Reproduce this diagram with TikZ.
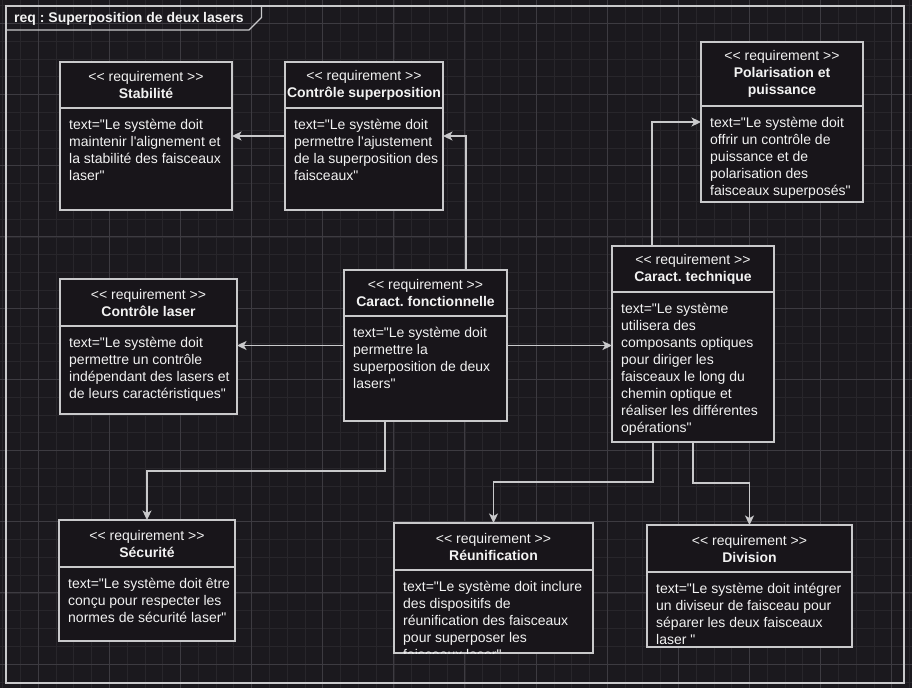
\documentclass[tikz,border=0pt]{standalone}
\usepackage{fontspec}
\newfontfamily\lsans{Liberation Sans}
\usetikzlibrary{arrows.meta}

\definecolor{canvas}{HTML}{1B191E}
\definecolor{boxfill}{HTML}{18151A}
\definecolor{gridminor}{HTML}{28262B}
\definecolor{gridmajor}{HTML}{3D3B41}
\definecolor{edge}{HTML}{C9C9CB}
\definecolor{ink}{HTML}{F2F2F2}

\tikzset{
  minorgrid/.style={draw=gridminor, line width=0.8pt},
  majorgrid/.style={draw=gridmajor, line width=0.9pt},
  frameline/.style={draw=edge, line width=1.3pt},
  reqbox/.style={draw=edge, fill=boxfill, line width=1.3pt, rectangle, inner sep=0pt, outer sep=0pt},
  reqline/.style={draw=edge, line width=1.1pt},
  headtext/.style={text=ink, font=\lsans\frenchspacing\fontsize{14}{17}\selectfont, align=center, inner sep=0pt},
  bodytext/.style={text=ink, font=\lsans\frenchspacing\fontsize{14}{17}\selectfont, align=left, inner sep=0pt},
  titletext/.style={text=ink, font=\lsans\frenchspacing\bfseries\fontsize{14}{17}\selectfont, inner sep=0pt},
  conn/.style={draw=edge, line width=1.4pt, -{Stealth[length=9.5pt, width=9pt, inset=2.5pt]}},
}

% requirement block: name, left, top, right, bottom, divider y, header, body
\newcommand\reqblock[8]{%
  \node[reqbox, anchor=north west, minimum width={#4-#2}, minimum height={#5-#3}] (#1) at (#2,#3) {};
  \draw[reqline] (#2,#6) -- (#4,#6);
  \node[headtext] (#1-head) at ({(#2+#4)/2},{(#3+#6)/2}) {#7};
  \begin{scope}
    \clip (#2,#3) rectangle (#4,#5);
    \node[bodytext, anchor=north west] (#1-body) at (#2+9,#6+11) {#8};
  \end{scope}
}

\begin{document}
\begin{tikzpicture}[x=1pt, y=-1pt]
  \useasboundingbox (0,0) rectangle (912,688);
  \fill[canvas] (0,0) rectangle (912,688);

  % background grid
  \foreach \i in {0,...,52} {
    \draw[minorgrid] ({2.74+17.78*\i},0) -- ++(0,688);
  }
  \foreach \i in {0,...,39} {
    \draw[minorgrid] (0,{5.5+17.8*\i}) -- ++(912,0);
  }
  \foreach \i in {-1,...,12} {
    \draw[majorgrid] ({38.3+71.1*\i},0) -- ++(0,688);
  }
  \foreach \i in {0,...,9} {
    \draw[majorgrid] (0,{23.3+71.2*\i}) -- ++(912,0);
  }

  % diagram frame and its name tab
  \draw[frameline] (6,6) rectangle (904,683);
  \draw[frameline] (6,30) -- (249,30) -- (261.5,17.5) -- (261.5,6);
  \node[titletext, anchor=west] (title) at (14,19) {req : Superposition de deux lasers};

  % requirements
  \reqblock{stab}{60}{62}{232}{210}{108}
    {<{}< requirement >{}>\\\textbf{Stabilité}}
    {text="Le système doit\\maintenir l'alignement et\\la stabilité des faisceaux\\laser"}
  \reqblock{csup}{285}{62}{443}{210}{108}
    {<{}< requirement >{}>\\\textbf{Contrôle superposition}}
    {text="Le système doit\\permettre l'ajustement\\de la superposition des\\faisceaux"}
  \reqblock{pol}{701}{42}{863}{202}{106}
    {<{}< requirement >{}>\\\textbf{Polarisation et}\\\textbf{puissance}}
    {text="Le système doit\\offrir un contrôle de\\puissance et de\\polarisation des\\faisceaux superposés"}
  \reqblock{claser}{60}{279}{237}{414}{326}
    {<{}< requirement >{}>\\\textbf{Contrôle laser}}
    {text="Le système doit\\permettre un contrôle\\indépendant des lasers et\\de leurs caractéristiques"}
  \reqblock{cf}{344}{270}{507}{421}{316}
    {<{}< requirement >{}>\\\textbf{Caract. fonctionnelle}}
    {text="Le système doit\\permettre la\\superposition de deux\\lasers"}
  \reqblock{ct}{612}{246}{774}{442}{292}
    {<{}< requirement >{}>\\\textbf{Caract. technique}}
    {text="Le système\\utilisera des\\composants optiques\\pour diriger les\\faisceaux le long du\\chemin optique et\\réaliser les différentes\\opérations"}
  \reqblock{sec}{59}{520}{235}{641}{567}
    {<{}< requirement >{}>\\\textbf{Sécurité}}
    {text="Le système doit être\\conçu pour respecter les\\normes de sécurité laser"}
  \reqblock{reu}{394}{523}{593}{653}{570}
    {<{}< requirement >{}>\\\textbf{Réunification}}
    {text="Le système doit inclure\\des dispositifs de\\réunification des faisceaux\\pour superposer les\\faisceaux laser"}
  \reqblock{div}{647}{525}{852}{647}{572}
    {<{}< requirement >{}>\\\textbf{Division}}
    {text="Le système doit intégrer\\un diviseur de faisceau pour\\séparer les deux faisceaux\\laser "}

  % derivation links
  \draw[conn] (csup.west) -- (stab.east);
  \draw[conn] ([xshift=40.5pt]cf.north) |- (csup.east);
  \draw[conn] (cf.west) -- (cf.west -| claser.east);
  \draw[conn] (cf.east) -- (cf.east -| ct.west);
  \draw[conn] ([xshift=-40.5pt]cf.south) -- ++(0,50) -| (sec.north);
  \draw[conn] ([xshift=-41pt]ct.north) |- (pol.west);
  \draw[conn] ([xshift=-40pt]ct.south) -- ++(0,40) -| (reu.north);
  \draw[conn] (ct.south) -- ++(0,41) -| (div.north);
\end{tikzpicture}
\end{document}
